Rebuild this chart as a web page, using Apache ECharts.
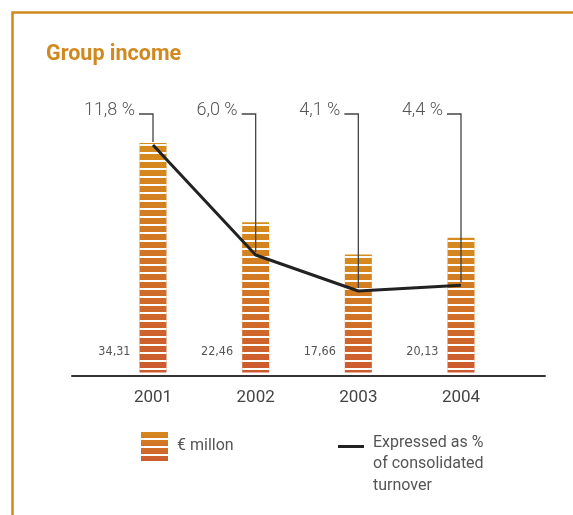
<!DOCTYPE html>
<html><head><meta charset="utf-8">
<script src="https://cdn.jsdelivr.net/npm/echarts@6/dist/echarts.min.js"></script>
<style>html,body{margin:0;padding:0;background:#fff}#c{width:573px;height:515px}</style>
</head><body><div id="c"></div>
<script>
const years = ['2001', '2002', '2003', '2004'];
const incomeMillion = [34.31, 22.46, 17.66, 20.13];
const pctTurnover = [11.8, 6.0, 4.1, 4.4];
const barName = '€ millon';
const lineName = 'Expressed as %\nof consolidated\nturnover';

const ORANGE = '#D0891F';
const fmt = v => Number(v).toFixed(2).replace('.', ',');
const fmtPct = v => Number(v).toFixed(1).replace('.', ',') + ' %';
const CALLOUT_Y = 114;

const chart = echarts.init(document.getElementById('c'), null, {renderer: 'canvas'});
const option = {
  animation: false,
  backgroundColor: '#fff',
  textStyle: {fontFamily: 'Roboto'},
  title: {
    text: 'Group income', left: 46, top: 44, padding: 0,
    textStyle: {fontFamily: 'Roboto', fontSize: 21.5, fontWeight: 'bold', color: ORANGE}
  },
  graphic: [{
    type: 'polyline', silent: true,
    shape: {points: [[12.5, 515], [12.5, 12.5], [573, 12.5]]},
    style: {stroke: ORANGE, lineWidth: 2.5, fill: null}
  }],
  grid: [
    {left: 101.67, right: 60.67, top: 100, bottom: 139},
    {left: 72, right: 28, top: 100, bottom: 139}
  ],
  xAxis: [
    {type: 'category', gridIndex: 0, data: years,
     axisLine: {show: false}, axisTick: {show: false},
     axisLabel: {fontSize: 17, color: '#444', margin: 13, fontFamily: 'Roboto'}},
    {type: 'category', gridIndex: 1, data: years,
     axisLine: {show: true, onZero: false, lineStyle: {color: '#333', width: 2}},
     axisTick: {show: false}, axisLabel: {show: false}}
  ],
  yAxis: [
    {type: 'value', gridIndex: 0, min: -0.52, max: 40.74, show: false},
    {type: 'value', gridIndex: 0, min: -0.38, max: 14.17, show: false},
    {type: 'value', gridIndex: 1, show: false}
  ],
  legend: [
    {data: [barName], left: 141, top: 430, padding: 0, itemWidth: 27, itemHeight: 31, icon: 'rect', selectedMode: false,
     textStyle: {fontSize: 16, color: '#555', padding: [0, 0, 0, 4], fontFamily: 'Roboto'}},
    {data: [lineName], left: 338, top: 431, padding: 0, itemWidth: 26, itemHeight: 66, selectedMode: false,
     icon: 'path://M0,0h0.01v0.01h-0.01z M0,14h26v3h-26z M25.99,65.99h0.01v0.01h-0.01z',
     textStyle: {fontSize: 16, lineHeight: 21.5, color: '#555', padding: [0, 0, 0, 4], fontFamily: 'Roboto'}}
  ],
  series: [
    {
      name: barName, type: 'bar', xAxisIndex: 0, yAxisIndex: 0, barWidth: 27,
      data: incomeMillion,
      itemStyle: {
        color: {type: 'linear', x: 0, y: 0, x2: 0, y2: 1,
                colorStops: [{offset: 0, color: '#D68C1C'}, {offset: 1, color: '#CC5A30'}]},
        decal: {symbol: 'rect', symbolSize: 1, color: '#ffffff', dashArrayX: [8, 0], dashArrayY: [2, 5.7], rotation: 0}
      },
      label: {
        show: true, position: [-9, '100%'], offset: [0, -20.5], align: 'right', verticalAlign: 'middle',
        formatter: p => fmt(p.value), fontFamily: 'DejaVu Sans Condensed', fontSize: 12.5, color: '#555'
      },
      z: 2
    },
    {
      name: 'callouts', type: 'custom', xAxisIndex: 0, yAxisIndex: 1, z: 3, silent: true,
      data: years.map((y, i) => [i, pctTurnover[i]]),
      renderItem: (params, api) => {
        const p = api.coord([api.value(0), api.value(1)]);
        return {
          type: 'group', children: [
            {type: 'polyline', shape: {points: [[p[0] - 14, CALLOUT_Y], [p[0], CALLOUT_Y], [p[0], p[1] - 3]]},
             style: {stroke: '#444', lineWidth: 1.3, fill: null}},
            {type: 'text', style: {text: fmtPct(api.value(1)), x: p[0] - 18, y: CALLOUT_Y - 4,
             align: 'right', verticalAlign: 'middle', font: '300 18px Roboto', fill: '#555'}}
          ]
        };
      }
    },
    {
      name: lineName, type: 'line', xAxisIndex: 0, yAxisIndex: 1, data: pctTurnover,
      symbol: 'none', z: 5,
      itemStyle: {color: '#222'},
      lineStyle: {color: '#222', width: 3}
    }
  ]
};
chart.setOption(option);
</script></body></html>
